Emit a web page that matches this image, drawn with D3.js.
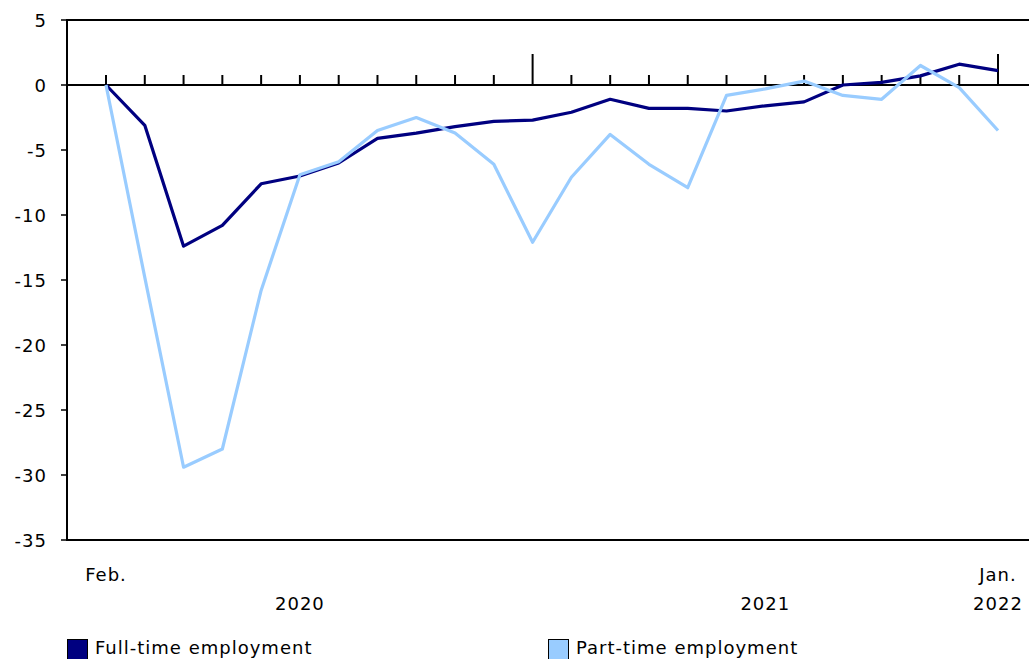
<!DOCTYPE html>
<html><head><meta charset="utf-8">
<script src="https://cdn.jsdelivr.net/npm/d3@7"></script>
<style>body{margin:0;background:#fff}svg{display:block}text{font-family:Verdana,"DejaVu Sans",sans-serif;fill:#000}</style>
</head><body><div id="chart"></div>
<script>
const months = ["2020-02","2020-03","2020-04","2020-05","2020-06","2020-07","2020-08","2020-09","2020-10","2020-11","2020-12","2021-01","2021-02","2021-03","2021-04","2021-05","2021-06","2021-07","2021-08","2021-09","2021-10","2021-11","2021-12","2022-01"];
const fullTime = [0,-3.1,-12.4,-10.8,-7.6,-7.0,-6.0,-4.1,-3.7,-3.2,-2.8,-2.7,-2.1,-1.1,-1.8,-1.8,-2.0,-1.6,-1.3,0.0,0.2,0.7,1.6,1.1];
const partTime = [0,-14.8,-29.4,-28.0,-15.8,-6.9,-5.9,-3.5,-2.5,-3.7,-6.1,-12.1,-7.1,-3.8,-6.1,-7.9,-0.8,-0.3,0.3,-0.8,-1.1,1.5,-0.2,-3.5];
const yTicks = [5,0,-5,-10,-15,-20,-25,-30,-35];
const monthLabels = [{i:0,t:"Feb."},{i:23,t:"Jan."}];
const yearLabels = [{a:0,b:10,t:"2020"},{a:11,b:23,t:"2021"},{a:23,b:23,t:"2022"}];
const seriesNames = ["Full-time employment","Part-time employment"];
const colors = ["#000080","#99ccff"];

const W=1029,H=659, FS=18, LS=1;
const svg=d3.select("#chart").append("svg").attr("width",W).attr("height",H);
const x=d3.scaleLinear().domain([0,23]).range([106,998]);
const y=d3.scaleLinear().domain([-35,5]).range([540,20]);
const left=67,right=1029;

// frame
svg.append("path").attr("d",`M${right},${y(5)}H${left}V${y(-35)}H${right}`).attr("fill","none").attr("stroke","#000").attr("stroke-width",2);

// y labels
const yAxis=d3.axisLeft(y).tickValues(yTicks).tickSize(0).tickPadding(0).tickFormat(d=>String(d));
const ya=svg.append("g").attr("transform",`translate(${left-20},0)`).call(yAxis);
ya.select(".domain").remove();
ya.selectAll("text").attr("font-size",FS).attr("letter-spacing",LS).attr("font-family",'Verdana,"DejaVu Sans",sans-serif').attr("dy","0.35em").attr("x",0);
svg.append("g").selectAll("line").data(yTicks).join("line")
 .attr("x1",left-6).attr("x2",left).attr("y1",d=>y(d)).attr("y2",d=>y(d)).attr("stroke","#000").attr("stroke-width",1.5);

// zero line + month ticks
svg.append("line").attr("x1",left).attr("x2",right).attr("y1",y(0)).attr("y2",y(0)).attr("stroke","#000").attr("stroke-width",2);
svg.append("g").selectAll("line").data(months).join("line")
 .attr("x1",(d,i)=>x(i)).attr("x2",(d,i)=>x(i))
 .attr("y1",(d)=>d.endsWith("-01")?y(0)-31:y(0)-10).attr("y2",y(0))
 .attr("stroke","#000").attr("stroke-width",2);

// lines
const line=d3.line().x((d,i)=>x(i)).y(d=>y(d));
[fullTime,partTime].forEach((s,k)=>{
 svg.append("path").datum(s).attr("d",line).attr("fill","none").attr("stroke",colors[k]).attr("stroke-width",3.2).attr("stroke-linejoin","round");
});

// x labels
svg.append("g").selectAll("text").data(monthLabels).join("text")
 .attr("x",d=>x(d.i)).attr("y",581).attr("text-anchor","middle").attr("font-size",FS).attr("letter-spacing",LS).text(d=>d.t);
svg.append("g").selectAll("text").data(yearLabels).join("text")
 .attr("x",d=>(x(d.a)+x(d.b))/2).attr("y",610).attr("text-anchor","middle").attr("font-size",FS).attr("letter-spacing",LS).text(d=>d.t);

// legend
const lg=svg.append("g");
const lx=[67,548];
seriesNames.forEach((n,k)=>{
 lg.append("rect").attr("x",lx[k]+0.5).attr("y",639.5).attr("width",20).attr("height",25).attr("fill",colors[k]).attr("stroke","#000").attr("stroke-width",1);
 lg.append("text").attr("x",lx[k]+28).attr("y",654).attr("font-size",FS).attr("letter-spacing",LS).text(n);
});
</script></body></html>
